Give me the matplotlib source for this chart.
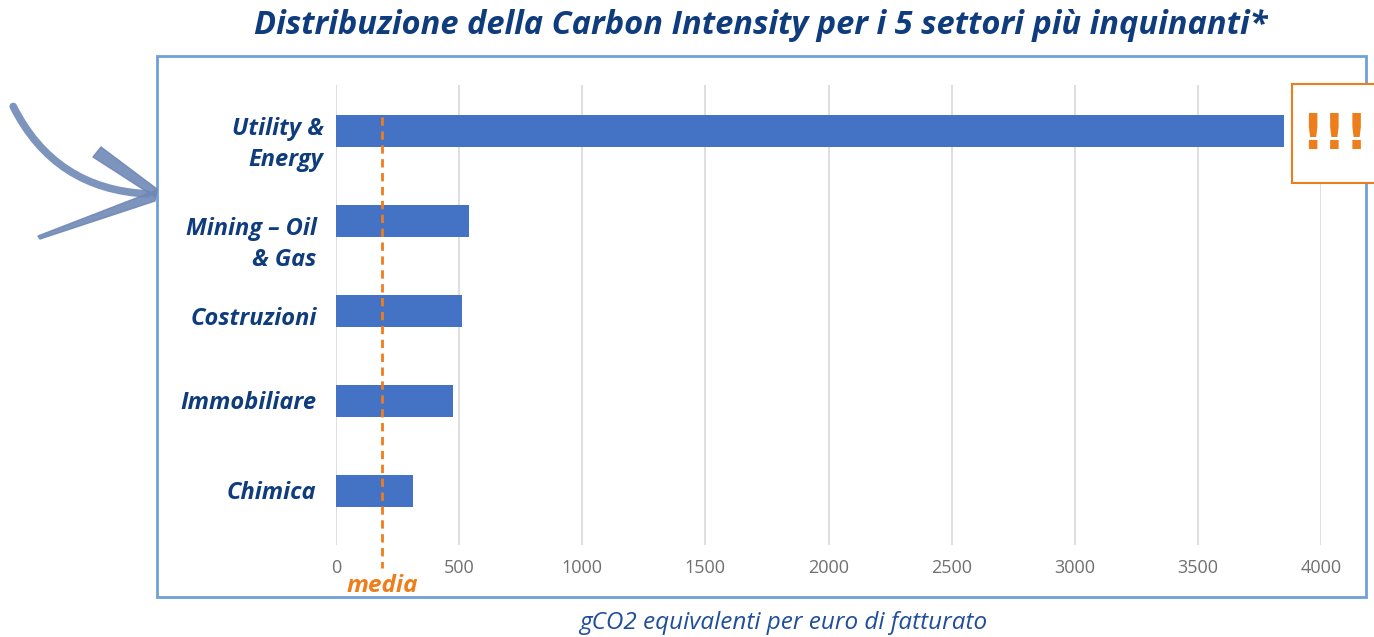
import matplotlib.pyplot as plt
from matplotlib.patches import Rectangle, FancyArrowPatch, Polygon
from matplotlib.transforms import offset_copy

categories = ["Utility &\nEnergy", "Mining – Oil\n& Gas", "Costruzioni", "Immobiliare", "Chimica"]
values = [3850, 540, 512, 475, 313]
media = 187
xticks = [0, 500, 1000, 1500, 2000, 2500, 3000, 3500, 4000]

title = "Distribuzione della Carbon Intensity per i 5 settori più inquinanti*"
xlabel = "gCO2 equivalenti per euro di fatturato"

navy = "#0F3C7D"
orange = "#EE7D1B"
bar_color = "#4472C4"
frame_color = "#6FA0D8"
arrow_color = "#6F88B6"

fig = plt.figure(figsize=(13.74, 6.37), dpi=100)
W, H = 1374, 637

def fx(px):
    return px / W

def fy(py):
    return 1 - py / H

def fp(pts):
    return [(fx(a), fy(b)) for a, b in pts]

# outer frame
fig.patches.append(Rectangle((fx(157), fy(597)), fx(1366) - fx(157), fy(56) - fy(597),
                             transform=fig.transFigure, fill=False, edgecolor=frame_color,
                             linewidth=2, zorder=0))

ax = fig.add_axes([fx(336), fy(545), fx(1321) - fx(336), fy(85) - fy(545)])
ypos = list(range(len(categories)))
ax.barh(ypos, values, height=0.36, color=bar_color, zorder=3)
ax.set_xlim(0, 4000)
ax.set_ylim(4.6, -0.51)
ax.set_xticks(xticks)
ax.set_xticklabels([str(t) for t in xticks], fontsize=13, color="#707070", family="Open Sans")
ax.tick_params(axis="x", length=0, pad=10)
ax.tick_params(axis="y", length=0, pad=14)
ax.set_yticks(ypos)
ax.set_yticklabels(categories, fontsize=17, color=navy, fontweight="bold", fontstyle="italic",
                   family="Open Sans", linespacing=1.4)
label_shift = [(7, -7), (0, -17), (0, -5), (0, 1), (0, 1)]
for lbl, (dx, dy) in zip(ax.get_yticklabels(), label_shift):
    lbl.set_horizontalalignment("right")
    lbl.set_multialignment("right")
    lbl.set_transform(offset_copy(lbl.get_transform(), fig=fig, x=dx, y=dy, units="dots"))
ax.grid(axis="x", color="#D9D9D9", linewidth=1.2, zorder=0)
for s in ax.spines.values():
    s.set_visible(False)

# media line
ax.plot([media, media], [-0.15, 4.85], color=orange, linestyle=(0, (3, 2)), linewidth=2,
        zorder=4, clip_on=False)
ax.text(media, 5.05, "media", color=orange, fontsize=17.5, fontweight="bold", fontstyle="italic",
        family="Open Sans", ha="center", va="center", clip_on=False)

# title and xlabel
fig.text(fx(761), fy(25), title, fontsize=23.5, color=navy, fontweight="bold",
         fontstyle="italic", family="Open Sans", ha="center", va="center")
fig.text(fx(783), fy(623), xlabel, fontsize=17.5, color="#1F4E9A", fontstyle="italic",
         family="Open Sans", ha="center", va="center")

# "!!!" box
fig.patches.append(Rectangle((fx(1292), fy(183)), fx(1385) - fx(1292), fy(84) - fy(183),
                             transform=fig.transFigure, facecolor="white", edgecolor=orange,
                             linewidth=1.5, zorder=5))
fig.text(fx(1335), fy(135), "!!!", fontsize=35, color=orange, fontweight="bold",
         family="DejaVu Sans", ha="center", va="center", zorder=6)

# decorative brush arrow
shaft = FancyArrowPatch((fx(12), fy(104)), (fx(150), fy(194)),
                        transform=fig.transFigure,
                        connectionstyle="arc3,rad=0.3",
                        arrowstyle="-", color=arrow_color, alpha=0.9, linewidth=5.5,
                        capstyle="round")
fig.patches.append(shaft)
fig.patches.append(Polygon(fp([(93, 157), (101, 147), (157, 189), (155, 197)]),
                           closed=True, transform=fig.transFigure, facecolor=arrow_color,
                           edgecolor=arrow_color, linewidth=1, alpha=0.9, joinstyle="round"))
fig.patches.append(Polygon(fp([(157, 190), (155, 201), (40, 239), (38, 236)]),
                           closed=True, transform=fig.transFigure, facecolor=arrow_color,
                           edgecolor=arrow_color, linewidth=1, alpha=0.9, joinstyle="round"))

fig.savefig("out.png", dpi=100)
